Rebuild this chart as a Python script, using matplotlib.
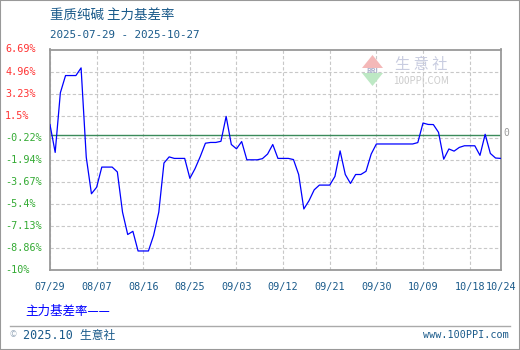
import matplotlib.pyplot as plt
import matplotlib.transforms as mtransforms
import matplotlib.dates as mdates
from matplotlib.patches import Polygon, Rectangle
from matplotlib.lines import Line2D
import numpy as np
import pandas as pd

plt.rcParams['font.family'] = ['Noto Sans CJK SC', 'DejaVu Sans']

title = '重质纯碱 主力基差率'
date_range_text = '2025-07-29 - 2025-10-27'
series_name = '主力基差率'

# daily basis rate (%), 07/29 .. 10/24
dates = pd.date_range('2025-07-29', '2025-10-24', freq='D')
basis = [0.80, -1.37, 3.30, 4.65, 4.65, 4.65, 5.25, -1.75, -4.61, -4.10,
         -2.52, -2.52, -2.52, -2.90, -6.05, -7.80, -7.55, -9.09, -9.09, -9.09,
         -7.87, -6.05, -2.20, -1.72, -1.84, -1.84, -1.84, -3.40, -2.64, -1.70,
         -0.65, -0.59, -0.59, -0.50, 1.45, -0.75, -1.09, -0.52, -1.95, -1.95,
         -1.95, -1.86, -1.50, -0.75, -1.84, -1.84, -1.84, -1.93, -3.10, -5.80,
         -5.15, -4.30, -3.93, -3.93, -3.93, -3.25, -1.25, -3.10, -3.80, -3.10,
         -3.10, -2.85, -1.50, -0.71, -0.71, -0.71, -0.71, -0.71, -0.71, -0.71,
         -0.71, -0.60, 0.93, 0.82, 0.81, 0.20, -1.90, -1.10, -1.27, -0.98,
         -0.85, -0.85, -0.85, -1.60, 0.05, -1.45, -1.81, -1.84]

xtick_dates = ['2025-07-29', '2025-08-07', '2025-08-16', '2025-08-25', '2025-09-03',
               '2025-09-12', '2025-09-21', '2025-09-30', '2025-10-09', '2025-10-18',
               '2025-10-24']
xtick_labels = ['07/29', '08/07', '08/16', '08/25', '09/03', '09/12', '09/21',
                '09/30', '10/09', '10/18', '10/24']
ytop, ybottom = 6.69, -10.58
ytick_labels = ['6.69%', '4.96%', '3.23%', '1.5%', '-0.22%', '-1.94%', '-3.67%',
                '-5.4%', '-7.13%', '-8.86%', '-10%']

W, H = 520, 350
fig = plt.figure(figsize=(W / 100, H / 100), dpi=100)
ax = fig.add_axes([50 / W, 1 - 270 / H, 450.7 / W, 220.5 / H])

ax.plot(dates, basis, color='#0000ff', lw=0.9, zorder=3)
ax.axhline(0, color='#3a8a5a', lw=1.0, zorder=2)

ax.set_xlim(dates[0], dates[-1])
ax.set_ylim(ybottom, ytop)
xt = mdates.date2num(pd.to_datetime(xtick_dates))
yt = np.linspace(ytop, ybottom, len(ytick_labels))
ax.set_xticks(xt)
ax.set_yticks(yt)
ax.grid(True, color='#c8c8c8', linestyle=(0, (3, 2)), lw=0.8)
ax.tick_params(length=0, labelbottom=False, labelleft=False)
for s in ax.spines.values():
    s.set_color('#999999')
    s.set_linewidth(1.3)

# y tick labels, left aligned
ytr = mtransforms.blended_transform_factory(fig.transFigure, ax.transData)
for v, lab in zip(yt, ytick_labels):
    col = '#ff3333' if not lab.startswith('-') else '#33aa33'
    fig.text(5 / W, v, lab, transform=ytr, ha='left', va='center', color=col,
             fontsize=7.3, family='DejaVu Sans Mono')

xtr = mtransforms.blended_transform_factory(ax.transData, fig.transFigure)
for d, lab in zip(xt, xtick_labels):
    fig.text(d, 1 - 287 / H, lab, transform=xtr, ha='center', va='center',
             color='#1a5a8a', fontsize=7.3, family='DejaVu Sans Mono')

fig.text(506 / W, 1 - 133 / H, '0', ha='center', va='center', color='#999999',
         fontsize=7, family='DejaVu Sans Mono')

# header
fig.text(50 / W, 1 - 15 / H, title, ha='left', va='center', color='#1a5a8a', fontsize=9.7)
fig.text(50 / W, 1 - 35 / H, date_range_text, ha='left', va='center', color='#1a5a8a',
         fontsize=7.8, family='DejaVu Sans Mono')

# legend
fig.text(25 / W, 1 - 311 / H, series_name + '——', ha='left', va='center',
         color='#0000ff', fontsize=9)

# footer
fig.add_artist(Line2D([10 / W, 510 / W], [1 - 326 / H, 1 - 326 / H], color='#aaaaaa', lw=1))
fig.text(10 / W, 1 - 335 / H, '©', ha='left', va='center', color='#99aabb', fontsize=6)
fig.text(23 / W, 1 - 335 / H, '2025.10 生意社', ha='left', va='center',
         color='#1a5a8a', fontsize=8.5, family=['DejaVu Sans Mono', 'Noto Sans CJK SC'])
fig.text(509 / W, 1 - 335 / H, 'www.100PPI.com', ha='right', va='center',
         color='#1a5a8a', fontsize=7.3, family='DejaVu Sans Mono')

# watermark
def px(x, y):
    return (x / W, 1 - y / H)

fig.add_artist(Polygon([px(362, 68), px(383, 68), px(372.5, 55)], closed=True,
                       transform=fig.transFigure, color='#f4b8b8', lw=0))
fig.add_artist(Polygon([px(362, 73), px(383, 73), px(372.5, 86)], closed=True,
                       transform=fig.transFigure, color='#bde8c4', lw=0))
fig.text(372.5 / W, 1 - 70.5 / H, 'RRI', ha='center', va='center', color='#aab0cc',
         fontsize=5, weight='bold')
fig.text(421 / W, 1 - 65 / H, '生 意 社', ha='center', va='center', color='#c8cce0',
         fontsize=11)
fig.text(421 / W, 1 - 81 / H, '100PPI.COM', ha='center', va='center', color='#cccccc',
         fontsize=7)

# outer border
fig.add_artist(Rectangle((0, 0), 1, 1, transform=fig.transFigure, fill=False,
                         edgecolor='#999999', lw=1.5))

fig.savefig('out.png', dpi=100)
